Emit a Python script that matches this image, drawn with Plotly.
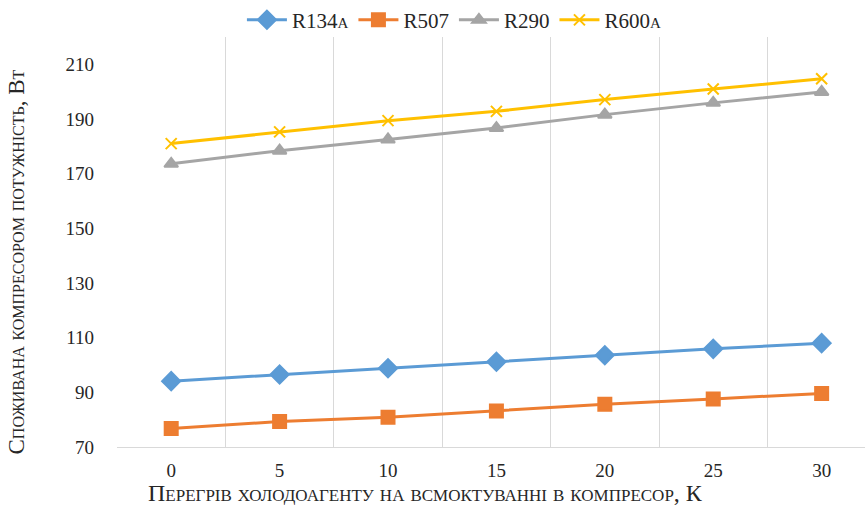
import plotly.graph_objects as go

superheat = [0, 5, 10, 15, 20, 25, 30]
r134a = [94.1, 96.5, 98.8, 101.2, 103.6, 105.9, 108.0]
r507 = [76.8, 79.3, 80.9, 83.2, 85.6, 87.6, 89.6]
r290 = [173.6, 178.4, 182.5, 186.7, 191.6, 195.9, 199.9]
r600a = [181.0, 185.3, 189.4, 192.8, 197.1, 201.0, 204.7]
y_ticks = [70, 90, 110, 130, 150, 170, 190, 210]
x_ticks = [0, 5, 10, 15, 20, 25, 30]
x_bounds = [-2.5, 2.5, 7.5, 12.5, 17.5, 22.5, 27.5]

FONT = "Liberation Serif, Times New Roman, serif"
TXT = "#262626"

series = [
    ("R134a", r134a, "#5B9BD5", "diamond", 14),
    ("R507", r507, "#ED7D31", "square", 13),
    ("R290", r290, "#A5A5A5", "triangle-up", 12),
    ("R600a", r600a, "#FFC000", "x-thin", 11),
]

fig = go.Figure()
for name, vals, color, sym, size in series:
    fig.add_trace(go.Scatter(
        x=superheat, y=vals, name=name, mode="lines+markers",
        line=dict(color=color, width=3),
        marker=dict(symbol=sym, size=size, color=color,
                    line=dict(color=color, width=2)),
    ))

fig.update_layout(
    width=865, height=509,
    margin=dict(l=117, r=0, t=37, b=62, autoexpand=False),
    plot_bgcolor="white", paper_bgcolor="white",
    font=dict(family=FONT, size=19, color=TXT),
    legend=dict(orientation="h", x=0.167, xanchor="left", y=1.041, yanchor="middle",
                font=dict(family=FONT, size=21, color=TXT, variant="small-caps"),
                itemwidth=40, tracegroupgap=0, bgcolor="rgba(0,0,0,0)"),
    showlegend=True,
    annotations=[
        dict(text="Споживана компресором потужність, Вт", xref="paper", yref="paper",
             x=-0.135, y=0.45, xanchor="center", yanchor="middle", textangle=-90,
             showarrow=False,
             font=dict(family=FONT, size=23, color=TXT, variant="small-caps")),
        dict(text="Перегрів холодоагенту на всмоктуванні в компресор, К",
             xref="paper", yref="paper", x=0.413, y=-0.112,
             xanchor="center", yanchor="middle", showarrow=False,
             font=dict(family=FONT, size=24, color=TXT, variant="small-caps")),
    ],
)
fig.update_xaxes(
    range=[-2.5, 32], tickvals=x_ticks, ticktext=[str(v) for v in x_ticks],
    showgrid=False, zeroline=False, automargin=False,
    showline=True, linecolor="#D9D9D9", linewidth=1,
    ticks="", ticklabelstandoff=6,
    tickfont=dict(family=FONT, size=19, color=TXT),
    minor=dict(tickmode="array", tickvals=x_bounds, showgrid=True,
               gridcolor="#D9D9D9", gridwidth=1, ticks=""),
)
fig.update_yaxes(
    range=[70, 220], tickvals=y_ticks, showgrid=False, zeroline=False,
    showline=False, ticks="", ticklabelstandoff=22, automargin=False,
    tickfont=dict(family=FONT, size=19, color=TXT),
)

fig.write_html("out.html", config={"displayModeBar": False},
               post_script="document.body.style.margin='0px';document.body.style.overflow='hidden';")
